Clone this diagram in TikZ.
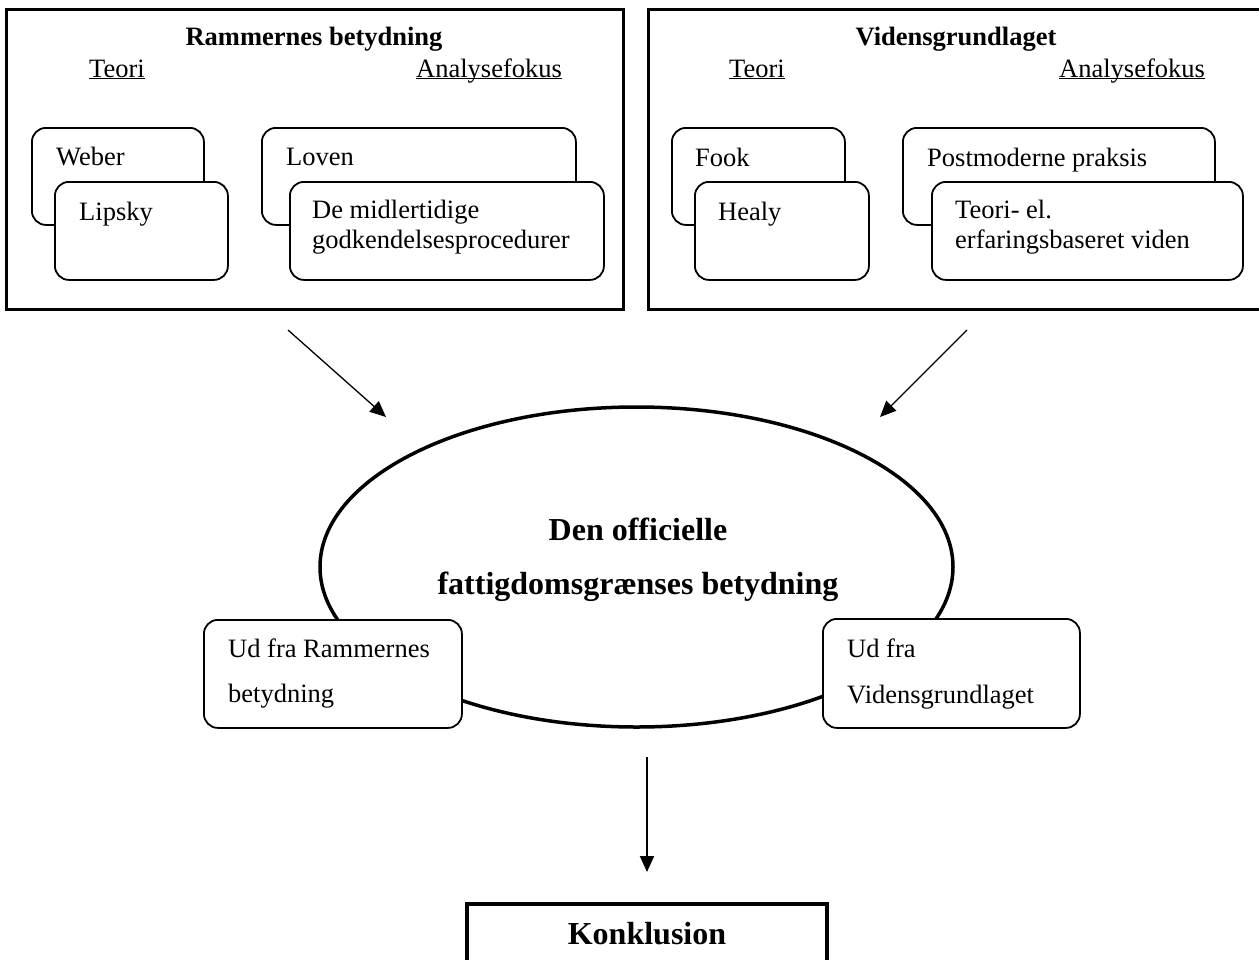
\documentclass[tikz,border=0pt]{standalone}
\usepackage{fontspec}
\setmainfont{Liberation Serif}
\usetikzlibrary{shapes.geometric, arrows.meta}
\tikzset{
    panel/.style = {draw, line width=3pt, anchor=north west, inner sep=0pt, minimum width=617pt, minimum height=300pt},
    card/.style = {draw, fill=white, rounded corners=14pt, line width=1.8pt, anchor=north west, inner sep=0pt},
    txt/.style = {inner sep=0pt, anchor=base west, font=\fontsize{26.5}{30}\selectfont},
    head/.style = {inner sep=0pt, anchor=base, font=\fontsize{26.5}{30}\selectfont\bfseries},
    big/.style = {inner sep=0pt, anchor=base, font=\fontsize{32}{40}\selectfont\bfseries},
    flow/.style = {draw, line width=1.3pt, -{Triangle[length=16pt, width=14pt]}},
}
\newcommand{\ulword}[1]{\setbox0\hbox{#1}\rlap{\rule[-2.4pt]{\wd0}{1.3pt}}\box0}

\begin{document}
\begin{tikzpicture}[x=1pt, y=-1pt]
            \useasboundingbox (0,0) rectangle (1259,959);

            % the two frames
            \node[panel] (rammer) at (5,8) {};
            \node[panel] (viden) at (647,8) {};
            \node[head] (rammerT) at (314,45) {Rammernes betydning};
            \node[head] (videnT) at (956,45) {Vidensgrundlaget};
            \node[txt] (teori1) at (89,77) {\ulword{Teori}};
            \node[txt] (fokus1) at (416,77) {\ulword{Analysefokus}};
            \node[txt] (teori2) at (729,77) {\ulword{Teori}};
            \node[txt] (fokus2) at (1059,77) {\ulword{Analysefokus}};

            % cards, left frame
            \node[card, minimum width=172pt, minimum height=97pt] (weber) at (31,127) {};
            \node[txt] (weberT) at (56,165) {Weber};
            \node[card, minimum width=173pt, minimum height=98pt] (lipsky) at (54,181) {};
            \node[txt] (lipskyT) at (79,220) {Lipsky};
            \node[card, minimum width=314pt, minimum height=97pt] (loven) at (261,127) {};
            \node[txt] (lovenT) at (286,165) {Loven};
            \node[card, minimum width=314pt, minimum height=98pt] (proc) at (289,181) {};
            \node[txt] (procT) at (312,218) {De midlertidige};
            \node[txt] (procT2) at (312,248) {godkendelsesprocedurer};

            % cards, right frame
            \node[card, minimum width=173pt, minimum height=97pt] (fook) at (671,127) {};
            \node[txt] (fookT) at (695,166) {Fook};
            \node[card, minimum width=174pt, minimum height=98pt] (healy) at (694,181) {};
            \node[txt] (healyT) at (718,220) {Healy};
            \node[card, minimum width=312pt, minimum height=97pt] (praksis) at (902,127) {};
            \node[txt] (praksisT) at (927,166) {Postmoderne praksis};
            \node[card, minimum width=311pt, minimum height=98pt] (erf) at (931,181) {};
            \node[txt] (erfT) at (955,218) {Teori- el.};
            \node[txt] (erfT2) at (955,248) {erfaringsbaseret viden};

            % arrows into the ellipse
            \coordinate (r1) at (288,330);
            \coordinate (r2) at (386,417);
            \coordinate (v1) at (967,330);
            \coordinate (v2) at (880,417);
            \draw[flow] (r1) -- (r2);
            \draw[flow] (v1) -- (v2);

            \node[draw, ellipse, line width=3.5pt, minimum width=633pt, minimum height=320pt, inner sep=0pt] (hub) at (636.5,567) {};
            \node[big] (hubT) at (638,540) {Den officielle};
            \node[big] (hubT2) at (638,594) {fattigdomsgrænses betydning};

            \node[card, minimum width=258pt, minimum height=108pt] (udR) at (203,619) {};
            \node[txt] (udRT) at (228,657) {Ud fra Rammernes};
            \node[txt] (udRT2) at (228,702) {betydning};
            \node[card, minimum width=257pt, minimum height=109pt] (udV) at (822,618) {};
            \node[txt] (udVT) at (847,657) {Ud fra};
            \node[txt] (udVT2) at (847,703) {Vidensgrundlaget};

            \node[draw, line width=4pt, anchor=north, inner sep=0pt, minimum width=360pt, minimum height=90pt] (konkl) at (647,902) {};
            \node[big] (konklT) at (647,944) {Konklusion};

            \draw[flow, line width=2pt, shorten <=28pt, shorten >=30pt] (konkl.north |- hub.south) -- (konkl.north);
        \end{tikzpicture}
\end{document}
